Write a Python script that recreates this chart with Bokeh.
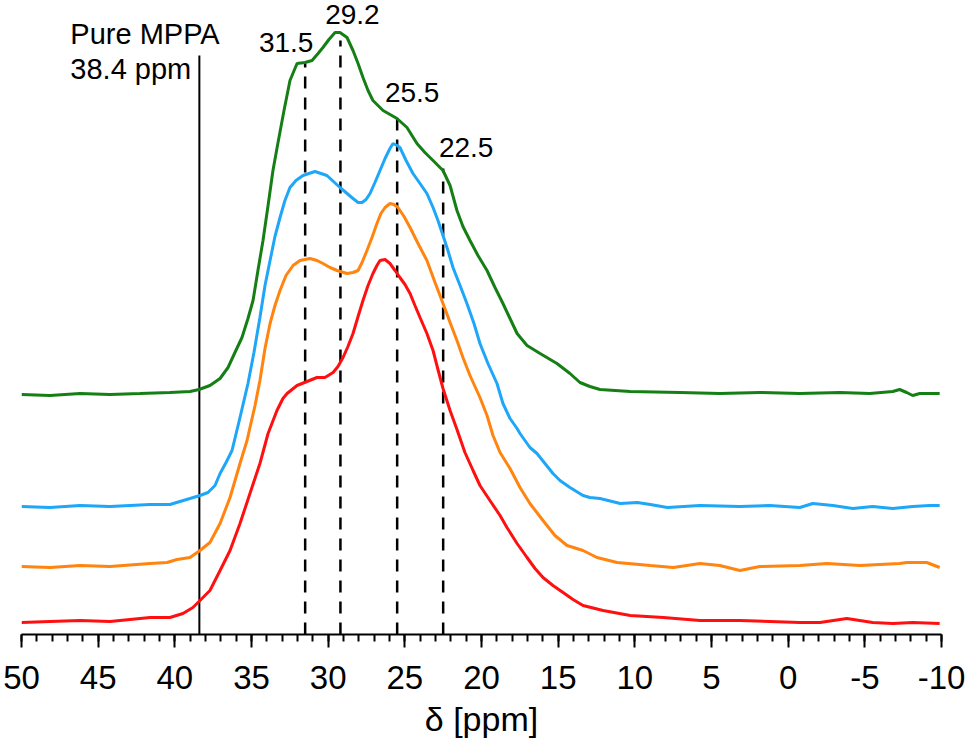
from bokeh.plotting import figure
from bokeh.models import Range1d, FixedTicker
from bokeh.embed import file_html
from bokeh.resources import INLINE
from bokeh.core.properties import value

# ---------------- data ----------------
ppm_green = [50.0, 48.14, 46.18, 44.23, 42.27, 40.32, 39.01, 38.42, 37.71, 37.05, 36.53, 36.08,
             35.62, 35.23, 34.90, 34.58, 34.25, 33.92, 33.60, 33.27, 32.88, 32.49, 32.03, 31.51,
             31.05, 30.66, 30.34, 29.95, 29.55, 29.23, 28.77, 28.38, 28.05, 27.73, 27.40, 27.08,
             26.42, 25.51, 24.86, 24.21, 23.69, 23.16, 22.51, 22.05, 21.60, 21.21, 20.75, 20.23,
             19.64, 19.12, 18.60, 18.14, 17.68, 17.03, 16.18, 15.08, 14.23, 13.58, 12.93, 12.27,
             10.30, 7.05, 4.46, 1.85, -0.76, -3.37, -5.32, -6.82, -7.27, -7.73, -8.12, -8.58, -9.88]
int_green = [240, 239, 241, 240, 241, 242, 243, 245, 249, 256, 267, 282,
             297, 316, 334, 364, 394, 429, 464, 492, 524, 554, 571, 572,
             574, 581, 587, 595, 602, 602, 597, 584, 571, 557, 544, 534,
             524, 516, 507, 491, 482, 474, 464, 449, 424, 408, 394, 379,
             364, 347, 331, 316, 301, 289, 281, 271, 261, 252, 248, 245,
             243, 242, 241, 242, 241, 242, 241, 243, 245, 242, 239, 241, 241]

ppm_blue = [50.0, 48.14, 46.18, 44.23, 41.62, 40.32, 39.01, 38.36, 37.84, 37.38, 37.05, 36.66,
            36.27, 35.75, 35.23, 34.84, 34.45, 34.12, 33.79, 33.47, 33.14, 32.82, 32.49, 32.10,
            31.64, 30.86, 30.08, 29.23, 28.38, 28.05, 27.79, 27.53, 27.27, 26.95, 26.62, 26.29,
            25.97, 25.77, 25.51, 25.32, 24.92, 24.47, 24.01, 23.56, 23.16, 22.84, 22.51, 22.19,
            21.86, 21.40, 20.95, 20.49, 20.10, 19.58, 18.99, 18.60, 18.14, 17.68, 17.49, 16.84,
            16.38, 15.86, 15.34, 14.88, 14.23, 13.38, 12.93, 12.27, 10.95, 9.84, 8.99, 7.88,
            5.75, 3.15, 1.20, -0.76, -1.61, -2.92, -4.22, -5.51, -6.82, -8.12, -9.23, -9.88]
int_blue = [128, 127, 129, 128, 130, 130, 136, 139, 142, 149, 161, 172,
            184, 217, 251, 282, 317, 349, 374, 398, 417, 434, 447, 454,
            459, 463, 459, 447, 436, 432, 432, 435, 441, 452, 464, 476,
            486, 491, 489, 487, 474, 461, 451, 441, 427, 414, 399, 384,
            367, 349, 331, 311, 291, 271, 251, 231, 216, 206, 201, 187,
            181, 171, 161, 154, 147, 139, 137, 136, 131, 132, 130, 127,
            129, 128, 129, 127, 131, 129, 126, 128, 126, 128, 129, 129]

ppm_orange = [50.0, 48.14, 46.18, 44.23, 41.62, 40.51, 39.86, 39.01, 38.36, 37.71, 37.05, 36.40,
              35.75, 35.29, 35.10, 34.77, 34.45, 34.12, 33.79, 33.47, 33.14, 32.75, 32.29, 31.84,
              31.19, 30.73, 30.34, 29.88, 29.42, 28.77, 28.38, 28.05, 27.79, 27.47, 27.14, 26.82,
              26.56, 26.29, 25.97, 25.71, 25.45, 25.05, 24.66, 24.14, 23.56, 23.03, 22.51, 22.05,
              21.60, 21.21, 20.75, 20.10, 19.64, 19.25, 18.79, 18.14, 17.49, 16.84, 15.99, 15.21,
              14.42, 13.38, 12.47, 11.16, 8.99, 7.49, 5.75, 4.46, 3.15, 1.85, -0.76, -2.53,
              -4.67, -5.97, -7.27, -7.73, -9.04, -9.88]
int_orange = [68, 67, 69, 68, 71, 72, 75, 77, 84, 92, 111, 137,
              171, 194, 207, 229, 254, 286, 311, 329, 344, 359, 369, 374,
              376, 374, 371, 367, 364, 361, 362, 364, 372, 384, 397, 411,
              421, 427, 431, 430, 427, 418, 407, 391, 374, 352, 331, 312,
              294, 277, 259, 237, 219, 199, 182, 166, 147, 131, 114, 99,
              89, 84, 77, 72, 69, 67, 71, 69, 64, 68, 69, 71,
              69, 70, 71, 72, 72, 67]

ppm_red = [50.0, 48.14, 46.18, 44.23, 42.92, 41.62, 40.32, 39.47, 38.82, 38.36, 37.71, 37.05,
           36.40, 35.75, 35.10, 34.45, 33.92, 33.34, 32.95, 32.68, 32.03, 31.38, 30.73, 30.21,
           29.68, 29.36, 29.03, 28.71, 28.38, 28.05, 27.73, 27.40, 27.08, 26.82, 26.62, 26.29,
           25.97, 25.64, 25.32, 24.99, 24.66, 24.34, 24.01, 23.56, 23.16, 22.84, 22.51, 22.05,
           21.60, 21.08, 20.55, 20.10, 19.45, 18.79, 18.34, 17.68, 17.03, 16.51, 15.99, 15.34,
           14.68, 14.03, 13.38, 12.07, 10.30, 8.14, 5.75, 3.15, 1.20, -0.76, -2.07, -3.83,
           -4.67, -5.51, -6.82, -8.12, -9.88]
int_red = [12, 13, 14, 13, 15, 17, 17, 21, 27, 34, 44, 64,
           84, 111, 141, 171, 201, 224, 236, 241, 249, 253, 257, 257,
           262, 268, 277, 288, 301, 318, 334, 349, 361, 369, 374, 375,
           371, 364, 357, 350, 341, 329, 317, 301, 284, 265, 246, 224,
           205, 182, 164, 149, 134, 119, 107, 91, 77, 66, 57, 49,
           42, 35, 29, 24, 19, 17, 14, 14, 13, 12, 12, 16,
           14, 12, 11, 12, 11]

pure_ppm = [38.4]
pure_top = [579]
peak_ppm = [31.5, 29.2, 25.5, 22.5]
peak_top = [571, 594, 516, 466]
peak_labels = ["31.5", "29.2", "25.5", "22.5"]
pure_labels = ["Pure MPPA", "38.4 ppm"]

tick_values = [50, 45, 40, 35, 30, 25, 20, 15, 10, 5, 0, -5, -10]
tick_labels = ["50", "45", "40", "35", "30", "25", "20", "15", "10", "5", "0", "-5", "-10"]
minor_values = list(range(-10, 51))

# ---------------- style / layout ----------------
FONT = "Liberation Sans"
X_START, X_END = 50, -10
FRAME_W, FRAME_H = 920, 634
PPM_PER_PX = (X_START - X_END) / FRAME_W

p = figure(frame_width=FRAME_W, frame_height=FRAME_H,
           x_range=Range1d(X_START, X_END), y_range=Range1d(0, FRAME_H),
           output_backend="svg", toolbar_location=None, y_axis_location=None,
           min_border_left=21, min_border_right=28, min_border_top=0, min_border_bottom=113,
           background_fill_color="white", border_fill_color="white")
p.outline_line_color = None
p.grid.visible = False

ax = p.xaxis[0]
ax.ticker = FixedTicker(ticks=tick_values, minor_ticks=minor_values)
ax.major_label_overrides = {t: l for t, l in zip(tick_values, tick_labels)}
ax.axis_line_width = 2
ax.axis_line_color = "black"
ax.major_tick_line_width = 2
ax.minor_tick_line_width = 2
ax.major_tick_line_color = "black"
ax.minor_tick_line_color = "black"
ax.major_tick_in = 0
ax.major_tick_out = 13
ax.minor_tick_in = 0
ax.minor_tick_out = 7
ax.major_label_text_font = FONT
ax.major_label_text_font_size = "33px"
ax.major_label_text_color = "black"
ax.major_label_standoff = 18
ax.axis_label = "δ [ppm]"
ax.axis_label_text_font = FONT
ax.axis_label_text_font_size = "34px"
ax.axis_label_text_font_style = "normal"
ax.axis_label_text_color = "black"
ax.axis_label_standoff = 8

# reference lines
p.segment(x0=pure_ppm, y0=[0] * len(pure_ppm), x1=pure_ppm, y1=pure_top,
          line_color="black", line_width=2)
p.segment(x0=peak_ppm, y0=[0] * len(peak_ppm), x1=peak_ppm, y1=peak_top,
          line_color="black", line_width=2.5, line_dash="12 9")

# spectra
p.line(ppm_red, int_red, line_color="#ff1010", line_width=3)
p.line(ppm_orange, int_orange, line_color="#ff8410", line_width=3)
p.line(ppm_blue, int_blue, line_color="#1ea6f8", line_width=3)
p.line(ppm_green, int_green, line_color="#157f15", line_width=3)

# peak labels (screen-pixel offsets from line tops)
lab_dx = [-19, 12, 15, 23]
lab_dy = [21, 26, 26, 21]
lab_x = [x - dx * PPM_PER_PX for x, dx in zip(peak_ppm, lab_dx)]
lab_y = [y + dy for y, dy in zip(peak_top, lab_dy)]
p.text(x=lab_x, y=lab_y, text=peak_labels, text_font=value(FONT), text_font_size="28px",
       text_align="center", text_baseline="alphabetic", text_color="black")

pure_x = [pure_ppm[0] + 129 * PPM_PER_PX] * 2
pure_y = [pure_top[0] + 22, pure_top[0] - 13]
p.text(x=pure_x, y=pure_y, text=pure_labels, text_font=value(FONT), text_font_size="29px",
       text_align="left", text_baseline="alphabetic", text_color="black")

open("out.html", "w").write(file_html(p, INLINE))
